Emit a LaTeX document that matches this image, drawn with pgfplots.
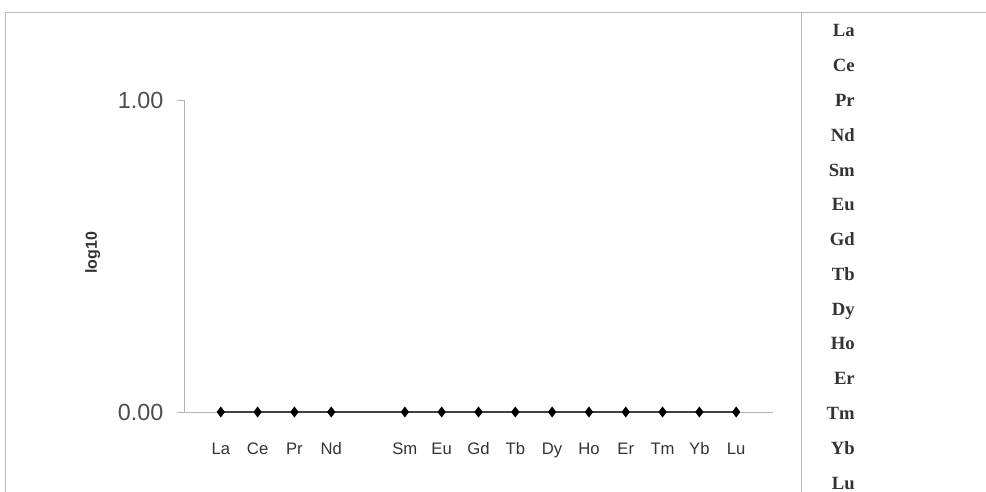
\documentclass[border=0pt]{standalone}
\usepackage{pgfplots}
\pgfplotsset{compat=1.18}
\usepackage{fontspec}
\setmainfont{Liberation Sans}
\newfontfamily\serifb{Liberation Serif}
\begin{document}
\begin{tikzpicture}[x=0.75pt,y=0.75pt]
\path[use as bounding box] (0,0) rectangle (986,492);
\draw[gray!55, line width=0.6pt] (5,0) -- (5,480) -- (986,480);
\draw[gray!55, line width=0.6pt] (801,0) -- (801,480);
\begin{axis}[
  at={(138pt,60pt)}, anchor=south west,
  scale only axis, width=441.75pt, height=234pt,
  xmin=-1, xmax=15, ymin=0, ymax=1,
  axis x line*=bottom, axis y line*=left,
  axis line style={gray!60, -, line width=0.6pt},
  xtick={0,1,2,3,5,6,7,8,9,10,11,12,13,14},
  xticklabels={La,Ce,Pr,Nd,Sm,Eu,Gd,Tb,Dy,Ho,Er,Tm,Yb,Lu},
  major x tick style={draw=none},
  ytick={0,1}, yticklabels={0.00,1.00},
  y tick style={gray!60, line width=0.6pt},
  tick align=outside, major tick length=5.25pt,
  yticklabel style={font=\fontsize{17.5}{20}\selectfont, text=black!70, xshift=-6.75pt},
  xticklabel style={font=\fontsize{12.5}{15}\selectfont, text=black!80, text height=9pt, text depth=2.5pt, yshift=-14pt},
  ylabel={log10},
  ylabel style={font=\bfseries\fontsize{12}{14}\selectfont, text=black!80, at={(axis description cs:-0.155,0.51)}, anchor=center},
  clip=false
]
\addplot[black!75, line width=1pt, mark=diamond*, mark size=3.3pt, mark options={fill=black, draw=black}]
  coordinates {(0,0)(1,0)(2,0)(3,0)(5,0)(6,0)(7,0)(8,0)(9,0)(10,0)(11,0)(12,0)(13,0)(14,0)};
\end{axis}
\foreach \t [count=\i from 0] in {La,Ce,Pr,Nd,Sm,Eu,Gd,Tb,Dy,Ho,Er,Tm,Yb,Lu}
  \node[anchor=base east, inner sep=0pt, text=black!80] at (855, {492-(37+34.77*\i)}) {\serifb\bfseries\fontsize{14}{16}\selectfont \t};
\end{tikzpicture}
\end{document}
